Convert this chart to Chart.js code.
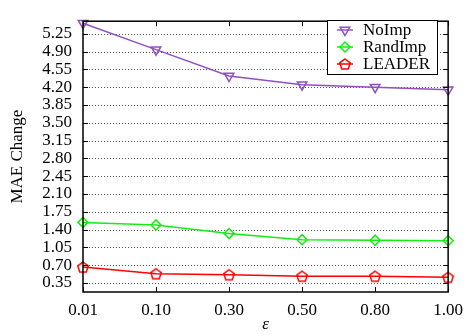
<!DOCTYPE html>
<html>
<head>
<meta charset="utf-8">
<style>
html,body{margin:0;padding:0;background:#fff;}
#wrap{width:471px;height:335px;}
</style>
<script src="https://cdn.jsdelivr.net/npm/chart.js@4/dist/chart.umd.min.js"></script>
</head>
<body>
<div id="wrap"><canvas id="c" width="471" height="335"></canvas></div>
<script>
const categories = ['0.01', '0.10', '0.30', '0.50', '0.80', '1.00'];
const noImp = [5.46, 4.94, 4.42, 4.25, 4.20, 4.15];
const randImp = [1.54, 1.49, 1.32, 1.20, 1.19, 1.18];
const leader = [0.66, 0.53, 0.51, 0.48, 0.48, 0.46];
const yTicks = [0.35, 0.70, 1.05, 1.40, 1.75, 2.10, 2.45, 2.80, 3.15, 3.50, 3.85, 4.20, 4.55, 4.90, 5.25];
const seriesNames = ['NoImp', 'RandImp', 'LEADER'];

const PURPLE = '#9050c0';
const GREEN = '#11ee11';
const RED = '#ff0000';
const SERIF = '"Liberation Serif", "DejaVu Serif", serif';

function pentagon(color) {
  const s = 14;
  const cv = document.createElement('canvas');
  cv.width = s; cv.height = s;
  const g = cv.getContext('2d');
  g.strokeStyle = color; g.lineWidth = 1.5;
  g.beginPath();
  const r = 5.5, cx = s / 2, cy = s / 2 + 0.5;
  for (let i = 0; i < 5; i++) {
    const a = -Math.PI / 2 + i * 2 * Math.PI / 5;
    const x = cx + r * Math.cos(a), y = cy + r * Math.sin(a);
    if (i === 0) g.moveTo(x, y); else g.lineTo(x, y);
  }
  g.closePath(); g.stroke();
  return cv;
}
const pentImg = pentagon(RED);

const gridDots = {
  id: 'gridDots',
  beforeDatasetsDraw(chart) {
    const {ctx, chartArea: a, scales} = chart;
    ctx.save();
    ctx.strokeStyle = '#555';
    ctx.lineWidth = 1;
    ctx.setLineDash([1, 2]);
    ctx.beginPath();
    scales.y.ticks.forEach(t => {
      const y = Math.round(scales.y.getPixelForValue(t.value)) + 0.5;
      ctx.moveTo(a.left + 6, y); ctx.lineTo(a.right - 6, y);
    });
    ctx.stroke();
    ctx.restore();
  }
};

const frame = {
  id: 'frame',
  afterDatasetsDraw(chart) {
    const {ctx, chartArea: a, scales} = chart;
    ctx.save();
    ctx.strokeStyle = '#000';
    ctx.lineWidth = 1.5;
    ctx.strokeRect(a.left, a.top, a.right - a.left, a.bottom - a.top);
    ctx.lineWidth = 1;
    const tl = 5;
    ctx.beginPath();
    scales.y.ticks.forEach(t => {
      const y = Math.round(scales.y.getPixelForValue(t.value)) + 0.5;
      ctx.moveTo(a.left, y); ctx.lineTo(a.left + tl, y);
      ctx.moveTo(a.right, y); ctx.lineTo(a.right - tl, y);
    });
    categories.forEach((c, i) => {
      const x = Math.round(scales.x.getPixelForValue(i)) + 0.5;
      ctx.moveTo(x, a.bottom); ctx.lineTo(x, a.bottom - tl);
      ctx.moveTo(x, a.top); ctx.lineTo(x, a.top + tl);
    });
    ctx.stroke();

    // legend box
    const bx = 327, by = 20, bw = 110, bh = 54;
    ctx.fillStyle = '#fff';
    ctx.fillRect(bx, by, bw, bh);
    ctx.strokeStyle = '#000';
    ctx.lineWidth = 1;
    ctx.strokeRect(bx + 0.5, by + 0.5, bw, bh);
    ctx.font = '17px ' + SERIF;
    ctx.textBaseline = 'middle';
    ctx.textAlign = 'left';
    chart.data.datasets.forEach((ds, i) => {
      const y = by + 10 + i * 17;
      ctx.strokeStyle = ds.borderColor;
      ctx.lineWidth = 1.5;
      ctx.beginPath(); ctx.moveTo(bx + 10, y); ctx.lineTo(bx + 26, y); ctx.stroke();
      ctx.fillStyle = 'rgba(0,0,0,0)';
      Chart.helpers.drawPoint(ctx, {
        pointStyle: ds.pointStyle, rotation: ds.pointRotation || 0,
        radius: ds.pointRadius, borderWidth: 1.5
      }, bx + 18, y);
      ctx.fillStyle = '#000';
      ctx.fillText(ds.label, bx + 36, y + 1);
    });
    ctx.restore();
  }
};

new Chart(document.getElementById('c'), {
  type: 'line',
  data: {
    labels: categories,
    datasets: [
      {label: seriesNames[0], data: noImp, borderColor: PURPLE, backgroundColor: 'transparent',
       pointStyle: 'triangle', pointRotation: 180, pointRadius: 5.5, pointBorderWidth: 1.5, borderWidth: 1.5, clip: false},
      {label: seriesNames[1], data: randImp, borderColor: GREEN, backgroundColor: 'transparent',
       pointStyle: 'rectRot', pointRadius: 5, pointBorderWidth: 1.5, borderWidth: 1.5, clip: false},
      {label: seriesNames[2], data: leader, borderColor: RED, backgroundColor: 'transparent',
       pointStyle: pentImg, pointRadius: 5, pointBorderWidth: 1.5, borderWidth: 1.5, clip: false}
    ]
  },
  options: {
    responsive: false,
    animation: false,
    devicePixelRatio: 1,
    layout: {padding: {top: 11, right: 14, left: 0, bottom: 0}},
    plugins: {legend: {display: false}, tooltip: {enabled: false}},
    scales: {
      x: {
        type: 'category',
        offset: false,
        grid: {display: false, drawTicks: false},
        border: {display: false},
        ticks: {font: {family: SERIF, size: 17}, color: '#000', padding: 8, maxRotation: 0, autoSkip: false},
        title: {display: true, text: 'ε', font: {family: SERIF, size: 17, style: 'italic'}, color: '#000', padding: {top: 0, bottom: 0}},
        afterFit(s) { s.height = 43; }
      },
      y: {
        min: 0.17, max: 5.5,
        grid: {display: false, drawTicks: false},
        border: {display: false},
        ticks: {font: {family: SERIF, size: 17}, color: '#000', padding: 11, autoSkip: false,
                callback: v => Number(v).toFixed(2)},
        afterBuildTicks(s) { s.ticks = yTicks.map(v => ({value: v})); },
        title: {display: true, text: 'MAE Change', font: {family: SERIF, size: 17}, color: '#000', padding: {top: 7, bottom: 0}},
        afterFit(s) { s.width = 83; }
      }
    }
  },
  plugins: [gridDots, frame]
});
</script>
</body>
</html>
